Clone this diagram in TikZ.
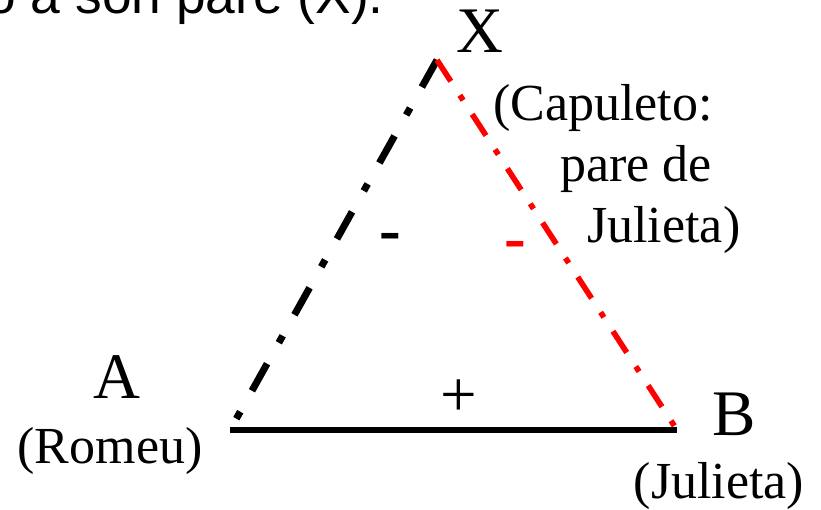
\documentclass[tikz,border=0pt]{standalone}
\usepackage{fontspec}
\setmainfont{Liberation Serif}
\newfontfamily\arialfont{Liberation Sans}
\usetikzlibrary{positioning}
\tikzset{
  vertexlabel/.style={inner sep=0pt, anchor=base, font=\fontsize{48.75}{56}\selectfont},
  namelabel/.style={inner sep=0pt, anchor=base, font=\fontsize{39}{46}\selectfont},
  signlabel/.style={inner sep=0pt, anchor=base, font=\fontsize{48.75}{56}\selectfont\bfseries},
  negedge/.style={line width=5.25pt, dash pattern=on 23.25pt off 18pt on 6pt off 18pt},
  redneg/.style={red, line width=4.2pt, dash pattern=on 19pt off 12.5pt on 4.5pt off 12.5pt},
  posedge/.style={line width=4.25pt}
}
\begin{document}
\begin{tikzpicture}[x=0.75pt, y=-0.75pt]
      \useasboundingbox (0,0) rectangle (821,510);
      % vertices of the triangle
      \coordinate (x) at (437,60);
      \coordinate (a) at (230,430);
      \coordinate (b) at (677,430);
      \draw[negedge] (x) -- (a);
      \draw[redneg] (x) -- (b);
      \draw[posedge] (a) -- (b);
      % labels
      \node[inner sep=0pt, anchor=base east, font=\arialfont\fontsize{40}{46}\selectfont] (title) at (384,14) {o a son pare (X).};
      \node[vertexlabel] (xlab) at (480,53) {X};
      \node[namelabel, anchor=base west] (cap1) at (493,120) {(Capuleto:};
      \node[namelabel, anchor=base west] (cap2) at (560,181) {pare de};
      \node[namelabel, anchor=base west] (cap3) at (587,242) {Julieta)};
      \node[vertexlabel] (alab) at (117,398) {A};
      \node[namelabel] (romeu) at (110,463) {(Romeu)};
      \node[vertexlabel] (blab) at (734,435) {B};
      \node[namelabel] (julieta) at (719,498) {(Julieta)};
      \node[signlabel] (minxa) at (390,251) {-};
      \node[signlabel, red] (minxb) at (515,259) {-};
      \node[vertexlabel] (plusab) at (459,416) {+};
    \end{tikzpicture}
\end{document}
